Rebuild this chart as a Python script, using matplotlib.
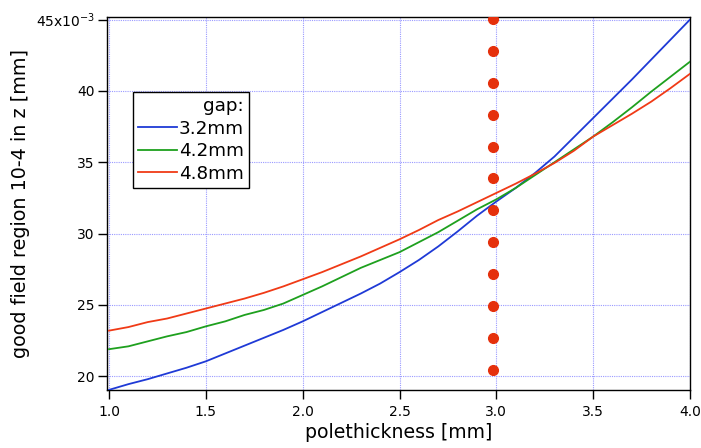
import matplotlib
matplotlib.use("Agg")
import matplotlib.pyplot as plt
import numpy as np

thickness = [1.0, 1.1, 1.2, 1.3, 1.4, 1.5, 1.6, 1.7, 1.8, 1.9, 2.0,
             2.1, 2.2, 2.3, 2.4, 2.5, 2.6, 2.7, 2.8, 2.9, 3.0,
             3.1, 3.2, 3.3, 3.4, 3.5, 3.6, 3.7, 3.8, 3.9, 4.0]

gap_3_2 = [19.05, 19.45, 19.8, 20.2, 20.6, 21.05, 21.6, 22.15, 22.7, 23.25, 23.85,
           24.5, 25.15, 25.8, 26.5, 27.3, 28.15, 29.1, 30.15, 31.25, 32.25,
           33.2, 34.25, 35.4, 36.75, 38.1, 39.45, 40.8, 42.2, 43.6, 45.0]
gap_4_2 = [21.9, 22.1, 22.45, 22.8, 23.1, 23.5, 23.85, 24.3, 24.65, 25.1, 25.7,
           26.3, 26.95, 27.6, 28.15, 28.7, 29.4, 30.1, 30.9, 31.7, 32.4,
           33.2, 34.1, 35.0, 35.9, 36.8, 37.8, 38.85, 39.95, 41.0, 42.05]
gap_4_8 = [23.2, 23.45, 23.8, 24.05, 24.4, 24.75, 25.1, 25.45, 25.85, 26.3, 26.8,
           27.3, 27.85, 28.4, 29.0, 29.6, 30.25, 30.95, 31.55, 32.2, 32.85,
           33.5, 34.2, 34.95, 35.8, 36.8, 37.6, 38.4, 39.25, 40.2, 41.2]

marker_x = [2.985] * 12
marker_y = [45.06, 42.82, 40.58, 38.34, 36.10, 33.87, 31.65, 29.40, 27.17, 24.93, 22.70, 20.45]

xticks = [1.0, 1.5, 2.0, 2.5, 3.0, 3.5, 4.0]
xtick_labels = ["1.0", "1.5", "2.0", "2.5", "3.0", "3.5", "4.0"]
yticks = [20, 25, 30, 35, 40, 45]
ytick_labels = ["20", "25", "30", "35", "40", "45x10$^{-3}$"]

plt.rcParams['font.family'] = ['DejaVu Sans']
plt.rcParams['mathtext.default'] = 'regular'

fig = plt.figure(figsize=(7.01, 4.48), dpi=100)
ax = fig.add_axes([106.7/701, 1 - 390/448, (690 - 106.7)/701, (390 - 17)/448])

ax.plot(thickness, gap_3_2, color='#1f3ad6', lw=1.3, label='3.2mm', zorder=3)
ax.plot(thickness, gap_4_2, color='#1ea01e', lw=1.3, label='4.2mm', zorder=3)
ax.plot(thickness, gap_4_8, color='#f03a16', lw=1.3, label='4.8mm', zorder=3)
ax.plot(marker_x, marker_y, linestyle='none', marker='o', markersize=7,
        color='#e5300c', zorder=4)

ax.set_xlim(0.988, 4.0)
ax.set_ylim(19.04, 45.18)
ax.set_xticks(xticks)
ax.set_xticklabels(xtick_labels)
ax.set_yticks(yticks)
ax.set_yticklabels(ytick_labels)
ax.tick_params(direction='out', length=6.5, width=1, labelsize=10, colors='black')
ax.tick_params(axis='y', pad=2)
ax.tick_params(axis='x', pad=4)
ax.grid(True, color='#9a9aff', linestyle=(0, (1, 1)), linewidth=0.8)
for s in ax.spines.values():
    s.set_linewidth(1.0)
    s.set_color('black')

ax.set_xlabel('polethickness [mm]', fontsize=13.6, labelpad=3)
ax.set_ylabel('good field region 10-4 in z [mm]', fontsize=13.8, labelpad=4)

leg = ax.legend(title='gap:', loc='upper left', bbox_to_anchor=(0.045, 0.80),
                fontsize=13.2, title_fontsize=13.2, fancybox=False, framealpha=1,
                edgecolor='black', borderpad=0.3, handlelength=2.1,
                handletextpad=0.1, labelspacing=0.25, borderaxespad=0)
leg.get_frame().set_linewidth(1.0)
leg._legend_box.align = 'right'

fig.savefig('out.png', dpi=100)
